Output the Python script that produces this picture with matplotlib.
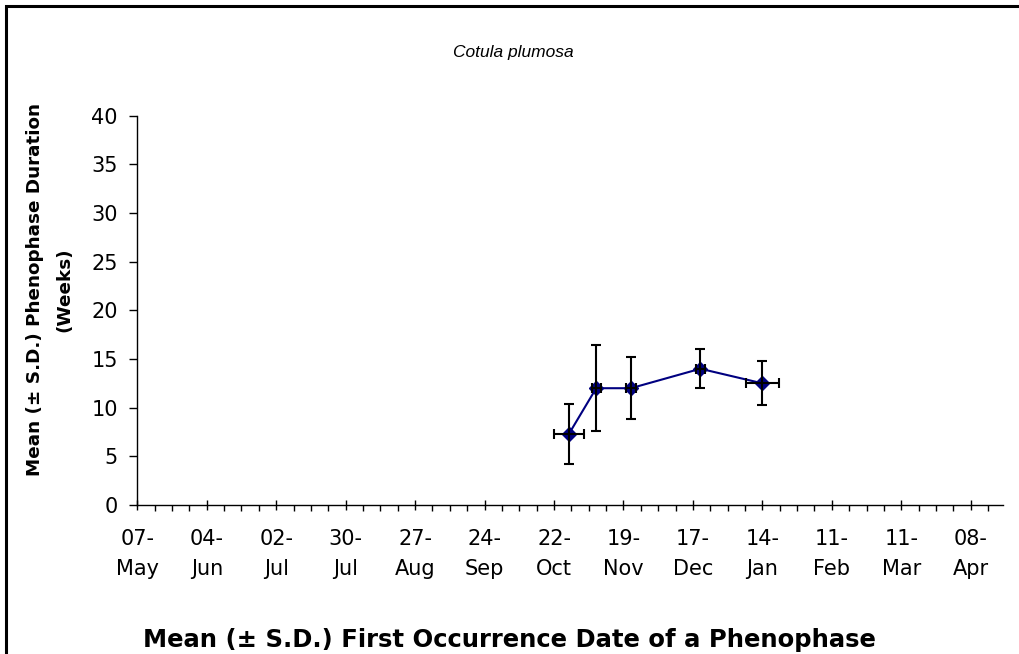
import matplotlib
matplotlib.use("Agg")
import matplotlib.pyplot as plt
import numpy as np
from matplotlib.patches import Rectangle

plt.rcParams['font.family'] = ['DejaVu Sans']

# Data: days since 07-May (mean first occurrence), duration in weeks
tick_labels = ["07-\nMay", "04-\nJun", "02-\nJul", "30-\nJul", "27-\nAug", "24-\nSep",
               "22-\nOct", "19-\nNov", "17-\nDec", "14-\nJan", "11-\nFeb", "11-\nMar", "08-\nApr"]
first_day = [174, 185, 199, 227, 252]          # days after 07-May
first_day_sd = [6.2, 1.8, 1.9, 1.7, 6.6]       # days
duration = [7.3, 12.0, 12.0, 14.0, 12.5]       # weeks
duration_sd = [3.05, 4.4, 3.2, 2.0, 2.25]      # weeks

W, H = 1019, 654
fig = plt.figure(figsize=(W / 100, H / 100), dpi=100)
fig.patches.append(Rectangle((6 / W, -0.2), 1.2, 1.2 - 6 / H, transform=fig.transFigure,
                             fill=False, edgecolor='black', linewidth=2.2))

ax = fig.add_axes([137.3 / W, 1 - 505 / H, (1003 - 137.3) / W, (505 - 115.7) / H])

ax.errorbar(first_day, duration, xerr=first_day_sd, yerr=duration_sd, fmt='none',
            ecolor='black', elinewidth=1.5, capsize=3.3, capthick=1.5, zorder=3)
ax.plot(first_day, duration, color='#000080', linewidth=1.5, marker='D',
        markersize=7.5, markerfacecolor='#000080', markeredgecolor='#000080', zorder=2)

ax.set_xlim(0, 349)
ax.set_ylim(0, 40)
ax.set_xticks(np.arange(len(tick_labels)) * 28)
ax.set_xticklabels(tick_labels, fontsize=15, linespacing=1.6)
ax.set_xticks(np.arange(0, 350, 7), minor=True)
ax.set_yticks(np.arange(0, 41, 5))
ax.tick_params(axis='y', labelsize=15, length=6, width=1, direction='out', pad=8)
ax.tick_params(axis='x', which='major', length=7, width=1, direction='inout', pad=14)
ax.tick_params(axis='x', which='minor', length=4, width=1, direction='out')
for s in ['top', 'right']:
    ax.spines[s].set_visible(False)
for s in ['left', 'bottom']:
    ax.spines[s].set_linewidth(1)

fig.text(513 / W, 1 - 53 / H, "Cotula plumosa", style='italic', fontsize=12.5,
         family=['Liberation Sans', 'DejaVu Sans'], ha='center', va='center')
fig.text(509 / W, 1 - 646.5 / H, "Mean (± S.D.) First Occurrence Date of a Phenophase",
         fontsize=17.5, fontweight='bold', ha='center', va='baseline')
fig.text(50 / W, 1 - 290 / H, "Mean (± S.D.) Phenophase Duration\n(Weeks)",
         fontsize=13.2, fontweight='bold', ha='center', va='center', rotation=90,
         linespacing=1.8)

fig.savefig("out.png", dpi=100)
